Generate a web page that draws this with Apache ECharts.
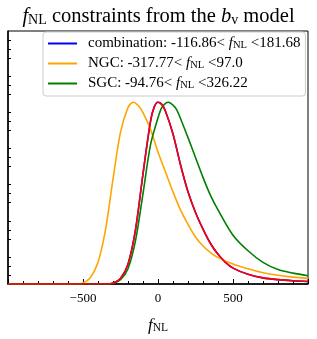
<!DOCTYPE html>
<html>
<head>
<meta charset="utf-8">
<script src="https://cdn.jsdelivr.net/npm/echarts@6/dist/echarts.min.js"></script>
<style>html,body{margin:0;padding:0;background:#fff;}#c{width:317px;height:339px;}</style>
</head>
<body>
<div id="c"></div>
<script>
const ngcX = [-1000, -550, -500, -450, -400, -350, -300, -250, -200, -165, -130, -100, -50, 0, 50, 100, 150, 200, 250, 300, 350, 400, 500, 600, 700, 800, 900, 1000];
const ngcY = [0, 0, 0.03, 0.18, 0.6, 1.5, 2.9, 4.2, 4.88, 5.03, 4.93, 4.74, 4.28, 3.65, 3.1, 2.55, 2.05, 1.65, 1.3, 1.05, 0.87, 0.73, 0.55, 0.42, 0.31, 0.24, 0.19, 0.16];
const combX = [-1000, -350, -300, -250, -200, -150, -100, -50, -25, 0, 25, 50, 100, 150, 200, 250, 300, 350, 400, 450, 500, 600, 700, 800, 900, 1000];
const combY = [0, 0, 0.02, 0.15, 0.55, 1.5, 3.05, 4.5, 4.9, 5.03, 4.97, 4.78, 4.15, 3.3, 2.55, 1.98, 1.52, 1.12, 0.82, 0.6, 0.44, 0.27, 0.17, 0.12, 0.09, 0.07];
const sgcX = [-1000, -330, -300, -250, -200, -150, -100, -50, 0, 25, 50, 70, 100, 125, 150, 200, 250, 300, 350, 400, 500, 600, 700, 800, 900, 1000];
const sgcY = [0, 0, 0.02, 0.12, 0.42, 1.2, 2.5, 3.85, 4.6, 4.88, 5.0, 5.03, 4.95, 4.82, 4.58, 4.05, 3.5, 2.95, 2.45, 2.05, 1.35, 0.92, 0.6, 0.4, 0.3, 0.23];
const xTickLabels = {'-500': '\u2212500', '0': '0', '500': '500'};
const names = ['combination', 'NGC', 'SGC'];
const bounds = {combination: ['-116.86', '181.68'], NGC: ['-317.77', '97.0'], SGC: ['-94.76', '326.22']};

const F = 'Liberation Serif';
const pair = (xa, ya) => xa.map((x, i) => [x, ya[i]]);
const chart = echarts.init(document.getElementById('c'), null, {renderer: 'canvas'});
const axisCol = '#000';
const lineSeries = (name, xa, ya, color, z) => ({
  name, type: 'line', data: pair(xa, ya), smooth: 0.3,
  showSymbol: false, symbol: 'none', lineStyle: {color, width: 1.6}, itemStyle: {color}, z
});
chart.setOption({
  animation: false,
  backgroundColor: '#fff',
  title: {
    text: '{i|f}{sub|NL}{n| constraints from the }{i|b}{sub|v}{n| model}',
    left: 'center', top: -2,
    textStyle: {
      fontWeight: 'normal',
      rich: {
        n: {fontFamily: F, fontSize: 20.5, fontWeight: 'normal', color: '#000', lineHeight: 24, verticalAlign: 'bottom'},
        i: {fontFamily: F, fontSize: 20.5, fontWeight: 'normal', fontStyle: 'italic', color: '#000', lineHeight: 24, verticalAlign: 'bottom'},
        sub: {fontFamily: F, fontSize: 14, fontWeight: 'normal', color: '#000', lineHeight: 12, verticalAlign: 'bottom', fontStyle: 'normal'}
      }
    }
  },
  grid: {left: 8, right: 9, top: 31, bottom: 48, show: true, borderColor: '#000', borderWidth: 1, containLabel: false},
  legend: {
    data: names,
    orient: 'vertical',
    left: 43, top: 32,
    padding: [4, 5, 5, 5],
    itemGap: 5,
    itemWidth: 29, itemHeight: 2,
    icon: 'rect',
    backgroundColor: 'rgba(255,255,255,0.85)',
    borderColor: '#cccccc', borderWidth: 1, borderRadius: 3,
    formatter: name => `{n|${name}: ${bounds[name][0]}< }{i|f}{sub|NL}{n| <${bounds[name][1]}}`,
    textStyle: {
      padding: [0, 0, 0, 6],
      rich: {
        n: {fontFamily: F, fontSize: 15, color: '#000', lineHeight: 15, verticalAlign: 'bottom'},
        i: {fontFamily: F, fontSize: 15, fontStyle: 'italic', color: '#000', lineHeight: 15, verticalAlign: 'bottom'},
        sub: {fontFamily: F, fontSize: 10.5, color: '#000', lineHeight: 8, verticalAlign: 'bottom'}
      }
    }
  },
  xAxis: {
    type: 'value', min: -1000, max: 1000, interval: 500,
    axisLine: {show: true, onZero: false, lineStyle: {color: axisCol, width: 1.5}},
    axisTick: {show: true, inside: true, length: 5, lineStyle: {color: axisCol, width: 1}},
    minorTick: {show: true, splitNumber: 5, length: 3, lineStyle: {color: axisCol, width: 1}},
    splitLine: {show: false},
    axisLabel: {
      margin: 8, fontFamily: F, fontSize: 13, color: '#000',
      formatter: v => (xTickLabels[String(v)] !== undefined ? xTickLabels[String(v)] : '')
    },
    name: '{i|f}{sub|NL}',
    nameLocation: 'middle', nameGap: 30,
    nameTextStyle: {
      rich: {
        i: {fontFamily: F, fontSize: 17, fontStyle: 'italic', color: '#000', lineHeight: 20, verticalAlign: 'bottom'},
        sub: {fontFamily: F, fontSize: 11.5, color: '#000', lineHeight: 11, verticalAlign: 'bottom'}
      }
    }
  },
  yAxis: {
    type: 'value', min: 0, max: 7, interval: 1,
    axisLine: {show: true, onZero: false, lineStyle: {color: axisCol, width: 1.5}},
    axisTick: {show: false, inside: true},
    minorTick: {show: true, splitNumber: 4, length: 3, lineStyle: {color: axisCol, width: 1}},
    splitLine: {show: false},
    axisLabel: {show: false}
  },
  series: [
    lineSeries('combination', combX, combY, '#0000ff', 2),
    lineSeries('NGC', ngcX, ngcY, '#ffa500', 3),
    lineSeries('SGC', sgcX, sgcY, '#008000', 4),
    lineSeries('combination (red)', combX, combY, '#ff0000', 5)
  ]
});
</script>
</body>
</html>
